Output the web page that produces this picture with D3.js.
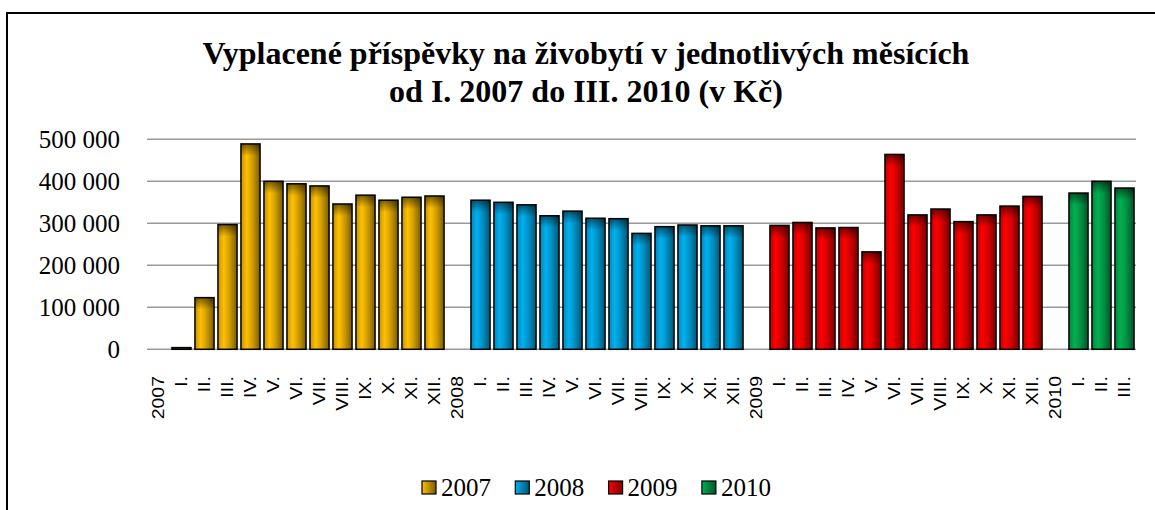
<!DOCTYPE html>
<html><head><meta charset="utf-8">
<script src="https://cdn.jsdelivr.net/npm/d3@7"></script>
<style>html,body{margin:0;padding:0;background:#fff;overflow:hidden}
.serif{font-family:"Liberation Serif","Times New Roman",Times,serif}
.sans{font-family:"Liberation Sans",Arial,Helvetica,sans-serif}</style>
</head><body>
<svg id="c" width="1155" height="510"></svg>
<script>
const title = ["Vyplacené příspěvky na živobytí v jednotlivých měsících", "od I. 2007 do III. 2010 (v Kč)"];
const years = ["2007", "2008", "2009", "2010"];
const months = ["I.", "II.", "III.", "IV.", "V.", "VI.", "VII.", "VIII.", "IX.", "X.", "XI.", "XII."];
const values2007 = [4000, 123000, 297000, 489000, 400000, 394000, 389000, 346000, 367000, 355000, 362000, 365000];
const values2008 = [355000, 350000, 344000, 318000, 329000, 312000, 311000, 276000, 292000, 296000, 294000, 294000];
const values2009 = [295000, 302000, 289000, 290000, 232000, 464000, 320000, 334000, 304000, 320000, 341000, 364000];
const values2010 = [372000, 400000, 384000];
const yTicks = [0, 100000, 200000, 300000, 400000, 500000];
const yTickLabels = ["0", "100 000", "200 000", "300 000", "400 000", "500 000"];

const seriesValues = [values2007, values2008, values2009, values2010];
const colors = {
  "2007": {light: "#FFC000", dark: "#7A5C00"},
  "2008": {light: "#00B0F0", dark: "#005675"},
  "2009": {light: "#FF0000", dark: "#7A0000"},
  "2010": {light: "#00B050", dark: "#00562A"}
};

const cats = [];
years.forEach((y, i) => {
  cats.push({key: cats.length, label: y, year: y, value: null});
  seriesValues[i].forEach((v, j) => cats.push({key: cats.length, label: months[j], year: y, value: v}));
});

const svg = d3.select("#c");
const defs = svg.append("defs");
years.forEach(y => {
  const g = defs.append("linearGradient").attr("id", "g" + y).attr("x1", 0).attr("x2", 1).attr("y1", 0).attr("y2", 0);
  g.append("stop").attr("offset", "0%").attr("stop-color", d3.interpolateRgb(colors[y].dark, colors[y].light)(0.55));
  g.append("stop").attr("offset", "30%").attr("stop-color", colors[y].light);
  g.append("stop").attr("offset", "60%").attr("stop-color", d3.interpolateRgb(colors[y].light, colors[y].dark)(0.35));
  g.append("stop").attr("offset", "100%").attr("stop-color", colors[y].dark);
  const s = defs.append("linearGradient").attr("id", "s" + y).attr("x1", 0).attr("x2", 1).attr("y1", 0).attr("y2", 0);
  s.append("stop").attr("offset", "0%").attr("stop-color", colors[y].light);
  s.append("stop").attr("offset", "100%").attr("stop-color", colors[y].dark);
});
const tg = defs.append("linearGradient").attr("id", "topShade").attr("x1", 0).attr("x2", 0).attr("y1", 0).attr("y2", 1);
tg.append("stop").attr("offset", "0%").attr("stop-color", "#000").attr("stop-opacity", 0.5);
tg.append("stop").attr("offset", "100%").attr("stop-color", "#000").attr("stop-opacity", 0);

svg.append("rect").attr("x", 7).attr("y", 13).attr("width", 1170).attr("height", 520)
  .attr("fill", "none").attr("stroke", "#000").attr("stroke-width", 2);

const t = svg.append("text").attr("class", "serif").attr("text-anchor", "middle")
  .attr("font-weight", "bold").attr("font-size", 32);
title.forEach((line, i) => t.append("tspan").attr("x", 586).attr("y", 64 + i * 38).text(line));

const x = d3.scaleBand().domain(cats.map(d => d.key)).range([147, 1136]).paddingInner(0.17).paddingOuter(0.085);
const y = d3.scaleLinear().domain([0, 500000]).range([349.3, 139.3]);

svg.append("g").selectAll("line").data(yTicks).join("line")
  .attr("x1", 147).attr("x2", 1136).attr("y1", d => y(d)).attr("y2", d => y(d))
  .attr("stroke", "#9a9a9a").attr("stroke-width", 1.6);

svg.append("g").selectAll("text").data(yTicks).join("text").attr("class", "serif")
  .attr("x", 120).attr("y", d => y(d) + 9).attr("text-anchor", "end").attr("font-size", 25)
  .text((d, i) => yTickLabels[i]);

const bars = cats.filter(d => d.value !== null);
const bg = svg.append("g");
bg.selectAll("rect.bar").data(bars).join("rect").attr("class", "bar")
  .attr("x", d => x(d.key)).attr("width", x.bandwidth())
  .attr("y", d => y(d.value)).attr("height", d => y(0) - y(d.value))
  .attr("fill", d => "url(#g" + d.year + ")");
bg.selectAll("rect.shade").data(bars).join("rect").attr("class", "shade")
  .attr("x", d => x(d.key)).attr("width", x.bandwidth())
  .attr("y", d => y(d.value)).attr("height", d => Math.min(12, y(0) - y(d.value)))
  .attr("fill", "url(#topShade)");
bg.selectAll("rect.outline").data(bars).join("rect").attr("class", "outline")
  .attr("x", d => x(d.key)).attr("width", x.bandwidth())
  .attr("y", d => y(d.value)).attr("height", d => y(0) - y(d.value))
  .attr("fill", "none").attr("stroke", "#000").attr("stroke-width", 1.5);

svg.append("g").selectAll("text").data(cats).join("text").attr("class", "sans")
  .attr("transform", d => `translate(${x(d.key) + x.bandwidth() / 2},376) rotate(-90) scale(1,0.8)`)
  .attr("dy", "0.36em").attr("text-anchor", "end").attr("font-size", 19.5)
  .text(d => d.label);

const lg = svg.append("g");
years.forEach((yr, i) => {
  const lx = 422 + i * 93.3;
  lg.append("rect").attr("x", lx).attr("y", 481).attr("width", 14).attr("height", 13)
    .attr("fill", "url(#s" + yr + ")").attr("stroke", "#000").attr("stroke-width", 1.2);
  lg.append("text").attr("class", "serif").attr("x", lx + 19).attr("y", 496).attr("font-size", 25)
    .text(yr);
});
</script>
</body></html>
